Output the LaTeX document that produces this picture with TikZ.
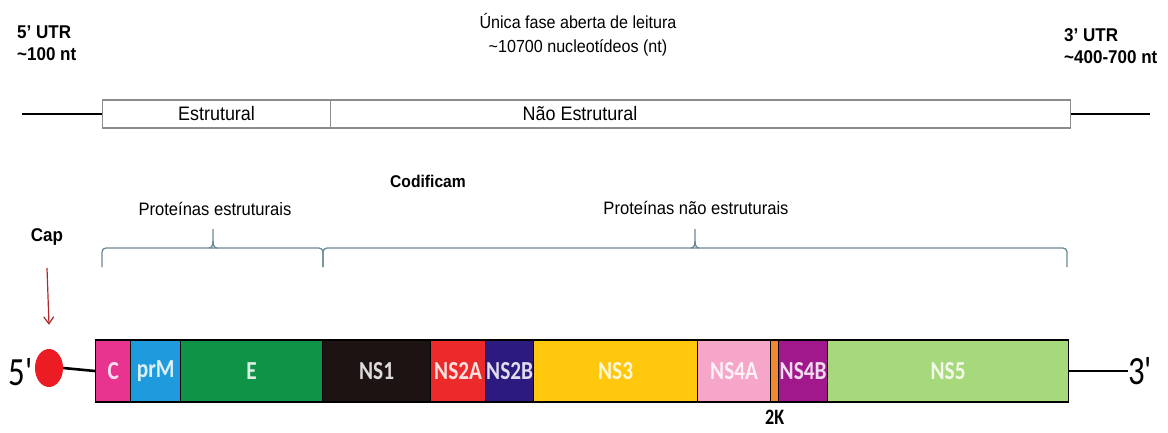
\documentclass[tikz,border=0pt]{standalone}
\usepackage{fontspec}
\setmainfont[FakeStretch=0.92]{Liberation Sans}
\newfontfamily\segfont[FakeStretch=0.82]{Carlito}
\usetikzlibrary{positioning, shapes.geometric, arrows.meta, calc}
\definecolor{capred}{HTML}{EC1C24}
\definecolor{arrowred}{HTML}{B0282C}
\definecolor{bracegray}{HTML}{6C8894}
\definecolor{boxgray}{HTML}{8C8C8C}
\definecolor{colC}{HTML}{E8338F}
\definecolor{colprM}{HTML}{1E9BDC}
\definecolor{colE}{HTML}{0F9447}
\definecolor{colNSone}{HTML}{1E1313}
\definecolor{colNStwoA}{HTML}{EC2A2A}
\definecolor{colNStwoB}{HTML}{2C1A7E}
\definecolor{colNSthree}{HTML}{FFC80C}
\definecolor{colNSfourA}{HTML}{F6A6C8}
\definecolor{coltwoK}{HTML}{F3892E}
\definecolor{colNSfourB}{HTML}{A0188C}
\definecolor{colNSfive}{HTML}{A6D87C}

\begin{document}
\begin{tikzpicture}[x=1pt, y=-1pt,
  lbl/.style={inner sep=0pt, font=\fontsize{17}{22}\selectfont},
  lblbold/.style={lbl, font=\fontsize{18.5}{22}\selectfont\bfseries},
  orfbox/.style={draw=boxgray, line width=1.1pt, minimum height=28, inner sep=0pt, anchor=west},
  seg/.style={draw=black, line width=1.3pt, minimum height=62, inner sep=0pt, anchor=west,
              font=\segfont\bfseries\fontsize{26}{28}\selectfont},
  utrline/.style={black, line width=2.6pt},
  bracepart/.style={bracegray, line width=1.3pt, rounded corners=4pt}]
  \useasboundingbox (0,0) rectangle (1168,432);

  % Top labels (anchored on the baseline of the last line)
  \node[lblbold, align=left, anchor=base west] (utrfive) at (17,60)
    {5' UTR\\\textasciitilde100 nt};
  \node[lbl, align=center, anchor=base, font=\fontsize{17.5}{24}\selectfont] (orflabel) at (578,52)
    {Única fase aberta de leitura\\\textasciitilde10700 nucleotídeos (nt)};
  \node[lblbold, align=left, anchor=base west] (utrthree) at (1064,63)
    {3' UTR\\\textasciitilde400-700 nt};

  % Open reading frame
  \node[orfbox, minimum width=228] (estr) at (102,114) {};
  \node[orfbox, minimum width=740] (naoestr) at (330,114) {};
  \node[lbl, font=\fontsize{19.5}{22}\selectfont] (estrtext) at (estr.center) {Estrutural};
  \node[lbl, font=\fontsize{19.5}{22}\selectfont] (naoestrtext) at (580,114) {Não Estrutural};
  \coordinate (orfL) at (22,114);
  \coordinate (orfR) at (1150,114);
  \draw[utrline] (orfL) -- (estr.west);
  \draw[utrline] (naoestr.east) -- (orfR);

  % Braces
  \node[lblbold, font=\fontsize{17}{20}\selectfont\bfseries] (codif) at (428,181) {Codificam};
  \node[lbl, anchor=base, font=\fontsize{18}{22}\selectfont] (protE) at (215,215) {Proteínas estruturais};
  \node[lbl, anchor=base, font=\fontsize{18}{22}\selectfont] (protNS) at (696,214) {Proteínas não estruturais};
  \draw[bracepart] (102,267) |- (323,248) -- (323,267);
  \draw[bracepart] (323,267) |- (1067,248) -- (1067,267);
  \foreach \t in {213, 695} {
    \draw[bracegray, line width=1.3pt] (\t-4,248) to[out=0, in=-90] (\t,241) -- (\t,229);
    \draw[bracegray, line width=1.3pt] (\t+4,248) to[out=180, in=-90] (\t,241);
  }

  % Genome
  \node[lblbold] (cap) at (47,237) {Cap};
  \node[ellipse, fill=capred, minimum width=28, minimum height=38, inner sep=0pt] (capdot) at (49,368) {};
  \coordinate (captop) at (47,268);
  \draw[arrowred, line width=1.2pt, -{Straight Barb[length=7pt, width=10pt]}]
    (captop) -- ([yshift=24pt]capdot.north);
  \node[font=\segfont\fontsize{40}{40}\selectfont, anchor=east, inner sep=0pt] (five) at (33,372) {5'};

  \foreach \a/\b/\n/\c/\t in {95/130/C/colC/C, 130/180/prM/colprM/prM, 180/322/E/colE/E,
      322/430/NSone/colNSone/NS1, 430/485/NStwoA/colNStwoA/NS2A, 485/533/NStwoB/colNStwoB/NS2B,
      533/697/NSthree/colNSthree/NS3, 697/770/NSfourA/colNSfourA/NS4A, 770/778/twoK/coltwoK/{},
      778/827/NSfourB/colNSfourB/NS4B, 827/1068/NSfive/colNSfive/NS5} {
    \node[seg, fill=\c, text=\c!15!white, minimum width={\b-\a}] (s-\n) at (\a,371) {\t};
  }
  \draw[utrline] (capdot.east) -- (s-C.west);
  \coordinate (genR) at (1128,371);
  \draw[utrline] (s-NSfive.east) -- (genR);
  \node[font=\segfont\fontsize{40}{40}\selectfont, anchor=west, inner sep=0pt] (three) at (genR) {3'};
  \node[font=\segfont\bfseries\fontsize{22}{24}\selectfont, inner sep=0pt, below=7pt of s-twoK] (twoKlabel) {2K};
\end{tikzpicture}
\end{document}
